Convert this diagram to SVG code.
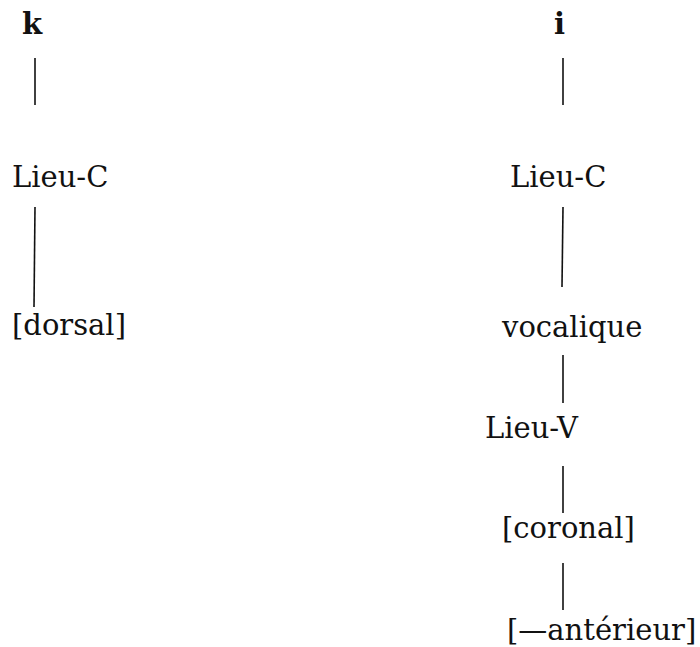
<svg xmlns="http://www.w3.org/2000/svg" width="700" height="647" viewBox="0 0 700 647">
<style>
text{font-family:"DejaVu Serif",serif;font-size:29px;fill:#111}
.b{font-weight:bold}
#edges line{stroke:#111;stroke-width:1.6}
</style>
<rect width="700" height="647" fill="#fff"/>
<g id="edges">
<line x1="35" y1="58" x2="35" y2="105"/>
<line x1="35" y1="207" x2="34" y2="307"/>
<line x1="563" y1="58" x2="563" y2="105"/>
<line x1="563" y1="207" x2="562" y2="287"/>
<line x1="563" y1="355" x2="563" y2="403"/>
<line x1="563" y1="466" x2="563" y2="513"/>
<line x1="563" y1="563" x2="563" y2="610"/>
</g>
<g id="n-k"><text class="b" x="22" y="34">k</text></g>
<g id="n-lieuc1"><text x="12" y="187">Lieu-C</text></g>
<g id="n-dorsal"><text x="12" y="335">[dorsal]</text></g>
<g id="n-i"><text class="b" x="554" y="34">i</text></g>
<g id="n-lieuc2"><text x="510" y="187">Lieu-C</text></g>
<g id="n-vocalique"><text x="502" y="337">vocalique</text></g>
<g id="n-lieuv"><text x="485" y="438">Lieu-V</text></g>
<g id="n-coronal"><text x="502" y="538">[coronal]</text></g>
<g id="n-anterieur"><text x="507" y="640">[—antérieur]</text></g>
</svg>
